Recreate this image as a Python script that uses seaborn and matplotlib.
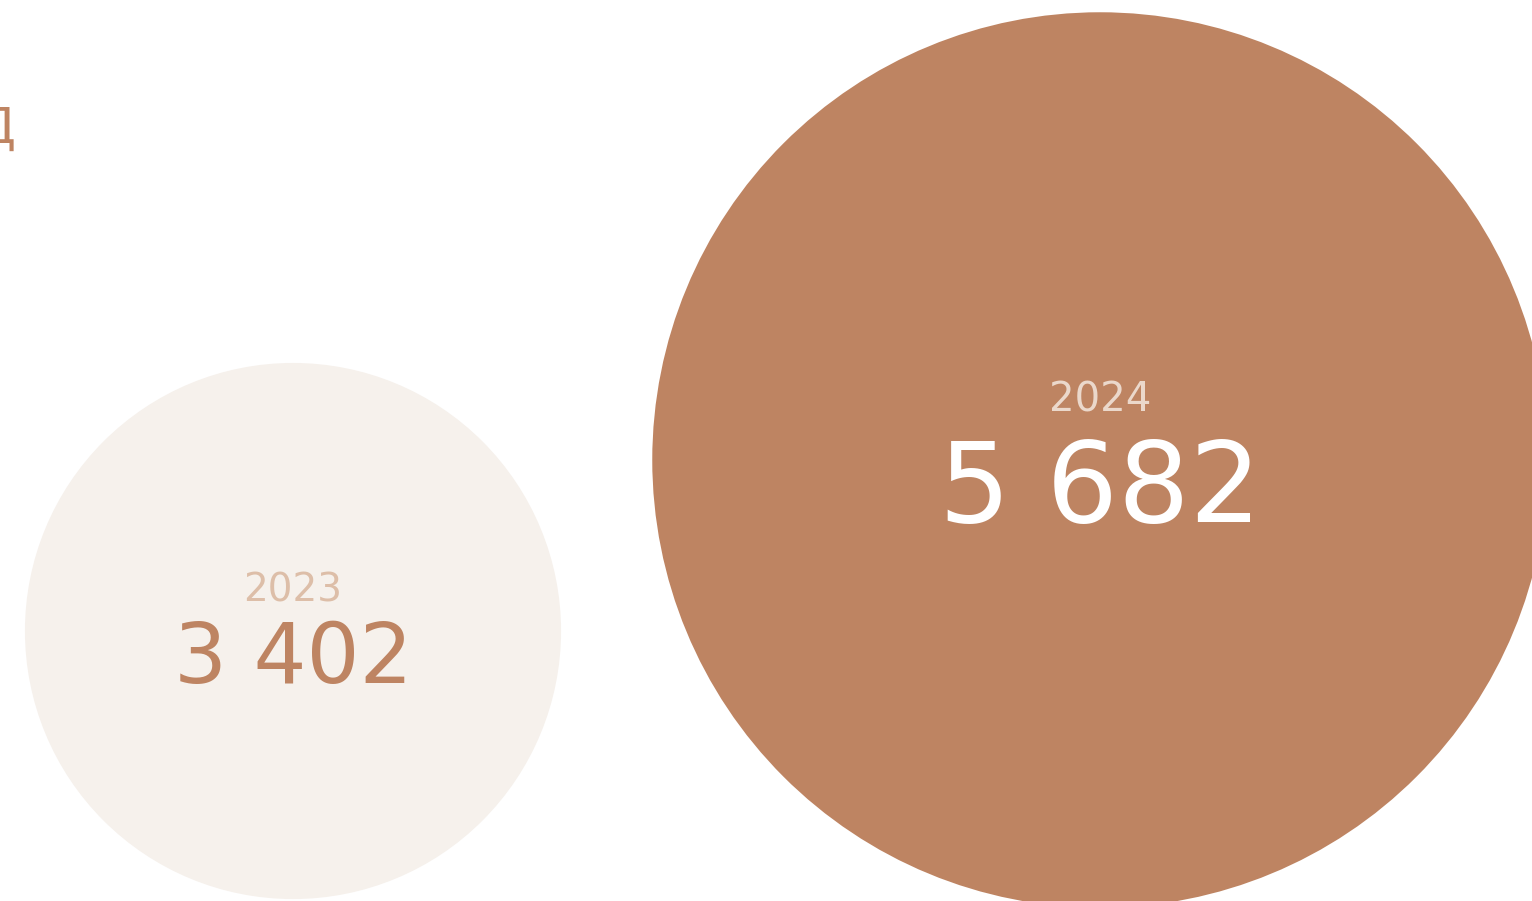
import matplotlib
matplotlib.use("Agg")
import matplotlib.pyplot as plt
from matplotlib.patches import Circle
import seaborn as sns

# Data
years = ["2023", "2024"]
values = [3402, 5682]
labels = ["3 402", "5 682"]

sns.set_theme(style="white")
plt.rcParams['font.family'] = ['DejaVu Sans']

W, H, DPI = 1532, 901, 100
fig = plt.figure(figsize=(W / DPI, H / DPI), dpi=DPI)
fig.patch.set_facecolor("white")
ax = fig.add_axes([0, 0, 1, 1])
ax.set_xlim(0, W)
ax.set_ylim(H, 0)
ax.set_axis_off()

brown = "#BE8462"
pale = "#F6F1EC"

# layout
centers = [(293, 631), (1100, 460)]
scale = 0.0788  # radius px per unit value
circle_colors = [pale, brown]
year_colors = ["#DDBEA8", "#EBD8CB"]
num_colors = [brown, "white"]
year_sizes = [28, 29]
num_sizes = [60, 81]
year_base = [601, 412]
num_base = [683, 522]

for i, v in enumerate(values):
    cx, cy = centers[i]
    ax.add_patch(Circle((cx, cy), radius=v * scale, facecolor=circle_colors[i],
                        edgecolor="none", zorder=1))
    ax.text(cx, year_base[i], years[i], ha="center", va="baseline",
            fontsize=year_sizes[i], color=year_colors[i], zorder=3)
    ax.text(cx, num_base[i], labels[i], ha="center", va="baseline",
            fontsize=num_sizes[i], color=num_colors[i], zorder=3)

# clipped title fragment at left edge
ax.text(16, 143, "Д", ha="right", va="baseline", fontsize=36, color=brown,
        zorder=3, clip_on=True)

fig.savefig("out.png", dpi=DPI, facecolor="white")
